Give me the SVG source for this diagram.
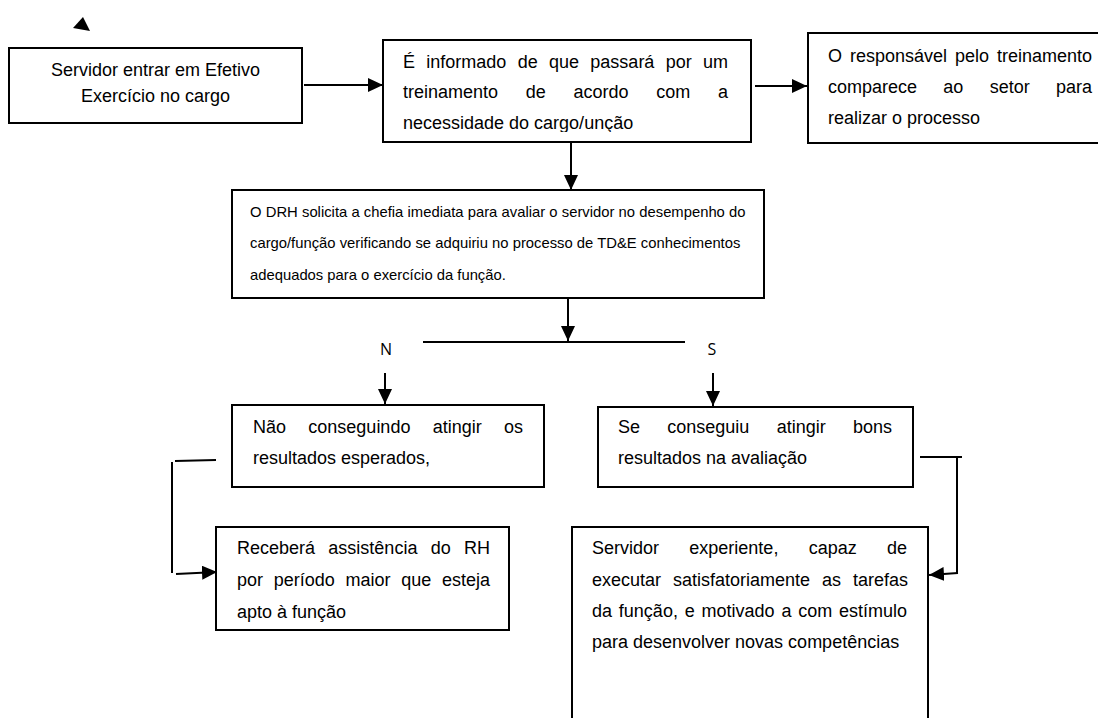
<svg xmlns="http://www.w3.org/2000/svg" width="1098" height="718" viewBox="0 0 1098 718">
<style>
.box{fill:#fff;stroke:#000;stroke-width:2}
.t{font-family:"Liberation Sans",Arial,sans-serif;font-size:18px;fill:#000}
.s{font-size:14.8px}
.lbl{font-family:"Open Sans","DejaVu Sans",sans-serif;font-size:16px;fill:#000}
.ln{stroke:#000;stroke-width:2;fill:none}
.ar{stroke:#000;stroke-width:2;fill:none;marker-end:url(#ah)}
</style>
<defs>
<marker id="ah" viewBox="0 0 15 14" markerWidth="15" markerHeight="14" refX="15" refY="7" orient="auto" markerUnits="userSpaceOnUse">
<path d="M0,0 L15,7 L0,14 z" fill="#000"/>
</marker>
<clipPath id="c2"><rect x="383" y="40" width="368" height="92"/></clipPath>
<clipPath id="c6"><rect x="216" y="527" width="293" height="95"/></clipPath>
</defs>
<rect width="1098" height="718" fill="#fff"/>
<polygon points="83,17 73,28 90,31" fill="#000"/>
<g id="connectors">
<line class="ar" x1="304" y1="85" x2="383" y2="85"/>
<line class="ar" x1="755" y1="86" x2="807" y2="86"/>
<line class="ar" x1="571" y1="143" x2="571" y2="190"/>
<line class="ar" x1="568" y1="299" x2="568" y2="341"/>
<line class="ln" x1="423" y1="342" x2="685" y2="342"/>
<line class="ar" x1="385" y1="373" x2="385" y2="404"/>
<line class="ar" x1="713" y1="373" x2="713" y2="406"/>
<line class="ln" x1="175" y1="461" x2="216" y2="460"/>
<line class="ln" x1="172" y1="462" x2="172" y2="573"/>
<line class="ar" x1="176" y1="574" x2="217" y2="572"/>
<line class="ln" x1="920" y1="457" x2="962" y2="457"/>
<line class="ln" x1="957" y1="457" x2="957" y2="573"/>
<line class="ar" x1="958" y1="573" x2="929" y2="575"/>
</g>
<g id="n1">
<rect class="box" x="9" y="48" width="293" height="75"/>
<text class="t" text-anchor="middle"><tspan x="155.5" y="76">Servidor entrar em Efetivo</tspan><tspan x="155.5" y="102">Exercício no cargo</tspan></text>
</g>
<g id="n2">
<rect class="box" x="383" y="40" width="368" height="102"/>
<text class="t" clip-path="url(#c2)"><tspan x="403" y="68" word-spacing="6.31">É informado de que passará por um</tspan><tspan x="403" y="98" word-spacing="22.7">treinamento de acordo com a</tspan><tspan x="403" y="129">necessidade do cargo/unção</tspan></text>
</g>
<g id="n3">
<rect class="box" x="808" y="33" width="300" height="110"/>
<text class="t"><tspan x="828" y="62" word-spacing="2.97">O responsável pelo treinamento</tspan><tspan x="828" y="93" word-spacing="21.3">comparece ao setor para</tspan><tspan x="828" y="124">realizar o processo</tspan></text>
</g>
<g id="n4">
<rect class="box" x="232" y="190" width="532" height="108"/>
<text class="t s"><tspan x="250" y="217" word-spacing="0.1">O DRH solicita a chefia imediata para avaliar o servidor no desempenho do</tspan><tspan x="250" y="248" word-spacing="0.05">cargo/função verificando se adquiriu no processo de TD&amp;E conhecimentos</tspan><tspan x="250" y="280">adequados para o exercício da função.</tspan></text>
</g>
<g id="labels">
<text class="lbl" x="386" y="355" text-anchor="middle">N</text>
<text class="lbl" x="712" y="355" text-anchor="middle">S</text>
</g>
<g id="n5">
<rect class="box" x="232" y="405" width="312" height="82"/>
<text class="t"><tspan x="253" y="433" word-spacing="17.3">Não conseguindo atingir os</tspan><tspan x="253" y="464">resultados esperados,</tspan></text>
</g>
<g id="n6">
<rect class="box" x="216" y="527" width="293" height="103"/>
<text class="t" clip-path="url(#c6)"><tspan x="237" y="554" word-spacing="8.3">Receberá assistência do RH</tspan><tspan x="237" y="586" word-spacing="5.7">por período maior que esteja</tspan><tspan x="237" y="618">apto à função</tspan></text>
</g>
<g id="n7">
<rect class="box" x="598" y="407" width="315" height="80"/>
<text class="t"><tspan x="618" y="433" word-spacing="22.3">Se conseguiu atingir bons</tspan><tspan x="618" y="464">resultados na avaliação</tspan></text>
</g>
<g id="n8">
<rect class="box" x="572" y="527" width="356" height="220"/>
<text class="t"><tspan x="592" y="554" word-spacing="25.3">Servidor experiente, capaz de</tspan><tspan x="592" y="586" word-spacing="6.97">executar satisfatoriamente as tarefas</tspan><tspan x="592" y="617" word-spacing="1.82">da função, e motivado a com estímulo</tspan><tspan x="592" y="648">para desenvolver novas competências</tspan></text>
</g>
</svg>
